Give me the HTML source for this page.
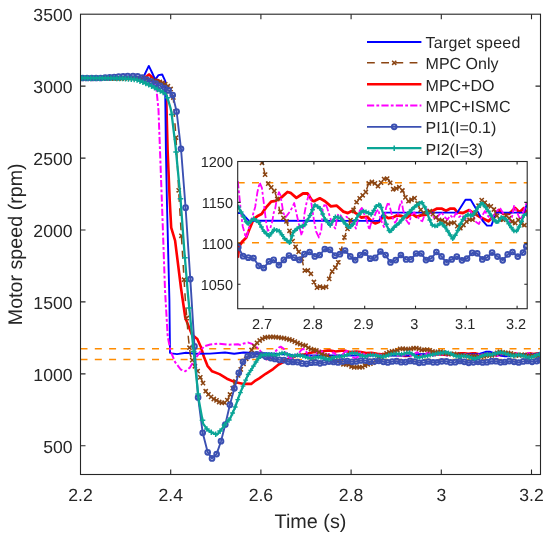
<!DOCTYPE html>
<html lang="en"><head><meta charset="utf-8"><title>Motor speed response</title>
<style>html,body{margin:0;padding:0;background:#fff}svg{display:block;will-change:transform;text-rendering:geometricPrecision}</style></head>
<body>
<svg width="550" height="541" viewBox="0 0 550 541" font-family="'Liberation Sans', Arial, Helvetica, sans-serif" fill="#262626">
<defs><clipPath id="cm"><rect x="80.5" y="14.2" width="460.0" height="460.3"/></clipPath>
<clipPath id="ci"><rect x="237.7" y="161.5" width="289.5" height="147.2"/></clipPath></defs>
<rect width="550" height="541" fill="#fff"/>
<g clip-path="url(#cm)">
<line x1="80.5" x2="540.5" y1="348.7" y2="348.7" stroke="#ff8c00" stroke-width="1.6" stroke-dasharray="7 7.3"/>
<line x1="80.5" x2="540.5" y1="359.5" y2="359.5" stroke="#ff8c00" stroke-width="1.6" stroke-dasharray="7 7.3"/>
<polyline points="80.5,78.5 144.0,78.0 147.0,76.0 149.0,74.4 152.0,77.0 156.0,79.5 161.0,82.0 163.5,84.5 165.5,89.0 166.2,96.0 166.4,104.0 167.6,150.0 169.7,200.0 171.2,227.7 175.1,240.7 181.0,288.0 185.3,317.7 191.8,334.4 197.3,339.0 201.0,347.3 203.8,356.5 207.5,365.8 212.1,371.3 219.5,374.1 226.9,378.7 234.3,381.9 243.8,383.9 251.2,383.9 254.6,381.2 259.2,378.4 265.7,373.8 273.1,369.1 278.6,364.5 283.4,362.0 285.0,359.9 287.6,359.2 290.9,358.5 294.2,356.8 297.5,355.2 300.8,354.7 304.7,354.3 308.7,353.2 313.2,352.2 317.2,352.0 321.8,351.5 327.7,350.5 330.3,350.6 335.6,351.5 341.4,350.7 345.4,350.7 349.3,351.9 351.1,352.1 356.3,351.6 361.0,352.1 366.2,353.0 371.4,352.9 377.3,353.9 381.3,354.2 385.2,353.8 389.2,354.3 393.1,355.0 398.3,354.8 402.2,355.6 405.5,356.0 408.8,355.7 413.2,354.6 417.2,355.1 421.1,355.0 425.1,354.6 429.0,354.7 433.6,355.0 438.2,354.3 442.1,354.8 446.0,354.6 451.3,354.4 456.6,353.8 460.5,353.4 464.4,353.4 468.4,353.8 472.3,353.4 475.8,353.4 478.5,354.0 483.5,354.2 489.0,353.6 493.0,354.2 498.6,354.9 506.1,355.6 511.3,354.6 515.3,353.6 519.2,354.3 524.5,354.3 529.7,353.3 533.6,354.0 537.6,353.3 540.6,354.3" fill="none" stroke="#ff0000" stroke-width="2.6" stroke-linejoin="round" />
<polyline points="80.5,78.5 143.0,78.5 144.2,75.5 148.8,65.9 152.0,72.5 155.2,79.7 158.5,75.1 162.2,74.5 165.3,81.1 165.3,90.0 165.3,100.0 165.9,150.0 167.0,205.0 169.4,300.0 170.0,352.8 171.5,353.4 177.0,354.1 186.0,352.8 195.0,353.8 210.0,353.6 225.0,352.5 234.2,353.8 243.5,352.5 260.0,353.0 283.4,354.2 287.0,354.2 293.5,355.5 408.9,355.5 413.2,354.1 478.5,354.1 485.7,351.8 490.3,351.8 496.9,354.0 500.8,355.5 504.8,356.4 508.7,356.4 512.7,354.1 537.6,354.1 540.6,352.4" fill="none" stroke="#0000ff" stroke-width="1.9" stroke-linejoin="round" />
<polyline points="80.5,78.5 145.0,78.5 150.0,79.0 154.0,83.0 156.5,90.0 158.5,110.0 162.2,210.0 165.0,290.0 167.7,336.2 170.5,351.0 175.1,362.1 180.7,369.5 185.3,371.3 189.9,367.6 195.5,358.4 200.1,351.9 203.8,346.4 210.2,344.5 217.6,343.6 228.7,344.7 232.4,344.6 237.9,344.2 240.0,344.9 243.7,343.5 248.3,342.6 252.0,343.9 256.6,347.2 259.9,350.4 263.0,355.0 266.5,359.5 270.0,358.0 272.5,355.0 275.1,351.8 278.8,347.6 280.7,346.7 283.5,348.5 285.2,351.8 286.6,354.4 287.9,356.5 289.8,357.9 290.5,358.6 291.9,358.0 293.1,357.0 295.1,355.7 297.0,354.4 299.0,353.1 300.9,350.5 303.0,348.8 304.9,349.7 306.3,351.8 307.5,353.9 308.8,356.0 310.2,357.3 312.1,357.0 314.1,355.7 315.4,354.1 316.7,353.4 318.1,351.8 320.0,350.5 321.4,351.0 322.7,352.6 323.9,354.1 326.0,354.9 327.9,354.4 329.9,353.9 331.8,353.2 333.6,352.4 336.2,354.7 338.8,357.1 340.2,358.1 341.4,357.1 342.8,354.2 344.5,352.4 345.9,351.4 347.1,350.9 348.4,352.0 351.1,355.3 353.1,357.4 355.6,358.5 357.7,357.1 358.9,353.5 361.0,352.5 362.9,353.3 364.9,354.6 367.5,356.1 370.1,356.9 371.4,355.3 372.8,354.3 374.7,354.6 377.3,355.3 380.0,354.8 381.9,355.1 383.9,355.9 386.5,356.1 388.5,356.9 389.8,355.6 391.8,353.8 393.7,353.3 395.7,354.3 398.3,355.6 400.3,357.1 401.6,356.1 403.6,355.3 406.2,354.0 408.2,353.5 410.1,355.1 412.1,356.1 413.3,356.6 415.1,353.3 417.2,352.2 419.1,353.5 421.1,355.0 423.1,355.9 424.9,355.3 427.0,353.0 429.0,352.1 430.2,353.5 432.9,355.3 435.5,356.1 437.5,354.6 440.1,354.0 442.6,354.6 444.8,355.3 447.3,355.6 449.3,354.6 452.0,353.5 454.6,354.0 457.2,354.8 459.1,355.3 461.8,354.6 464.4,354.0 467.0,354.8 469.7,355.3 472.3,354.6 474.9,355.1 477.3,354.2 479.9,354.9 482.6,354.5 485.2,355.4 487.9,354.3 489.7,353.6 492.3,354.5 495.0,355.7 497.7,356.1 500.3,354.7 503.0,353.8 505.7,354.7 508.3,355.2 511.0,354.5 513.7,353.8 516.3,353.3 519.0,354.2 521.6,355.4 524.3,355.9 527.0,354.9 528.7,352.9 531.4,354.0 533.2,354.9 535.0,355.4 537.6,353.6 539.4,352.6 540.6,352.4" fill="none" stroke="#ff00ff" stroke-width="2.0" stroke-dasharray="7.2 2.2 2.8 2.2" stroke-linejoin="round" />
<polyline points="80.5,78.5 140.0,78.3 150.0,79.5 160.0,82.0 166.0,84.5 170.0,88.0 173.0,93.0 173.8,105.0 174.3,114.5 176.0,137.7 179.2,200.0 185.3,299.2 188.4,338.0 190.3,354.7 193.6,364.0 197.7,371.3 200.1,376.9 202.8,382.4 205.0,390.3 207.7,393.7 210.5,396.4 213.3,398.7 216.0,400.1 218.8,401.8 221.6,402.9 224.4,402.9 227.1,400.5 229.0,396.8 232.0,390.0 236.0,380.0 241.0,369.0 245.3,360.0 249.0,355.0 252.0,349.2 254.8,345.5 257.6,342.1 261.3,339.3 265.0,337.5 270.5,336.8 277.0,337.2 283.4,338.1 290.0,339.6 294.0,341.2 297.5,343.0 302.6,345.1 304.7,345.1 306.6,346.4 309.3,348.7 312.6,349.6 315.5,350.1 318.5,351.6 320.5,353.5 323.0,354.9 326.3,355.4 329.0,357.0 331.7,358.9 334.2,359.9 336.9,360.7 339.5,361.8 340.7,362.4 342.7,364.3 346.0,364.3 349.2,365.0 351.2,366.3 354.5,367.5 357.1,367.0 359.8,367.4 363.1,367.0 365.7,364.9 368.9,364.0 371.6,363.4 374.2,362.2 376.8,359.3 380.0,357.4 382.6,356.1 385.2,354.3 387.9,352.6 390.4,351.8 393.7,351.2 397.0,350.5 399.7,349.0 403.6,348.6 407.7,349.5 411.1,348.7 414.6,347.9 417.8,348.3 419.8,349.4 422.4,350.3 425.7,349.5 428.3,349.7 430.9,350.7 433.6,352.1 436.9,352.1 439.5,351.3 442.1,352.0 444.8,353.3 447.3,354.0 450.6,354.2 454.6,353.8 457.9,354.7 461.8,355.3 465.7,355.5 469.7,356.1 473.6,355.9 475.8,355.9 479.1,356.6 481.8,356.9 485.1,355.9 489.0,355.3 493.0,355.3 496.3,353.3 500.2,351.8 503.4,352.5 506.7,353.1 509.4,352.9 512.0,354.0 514.6,355.1 517.9,355.6 521.8,354.6 525.7,355.3 529.0,356.1 532.3,355.3 535.6,356.1 538.9,356.4 540.6,356.3" fill="none" stroke="#8b4513" stroke-width="1.5" stroke-dasharray="7.8 6.4" stroke-linejoin="round" />
<path d="M79.4 76.4l4.2 4.2M79.4 80.6l4.2 -4.2M82.1 76.4l4.2 4.2M82.1 80.6l4.2 -4.2M84.8 76.4l4.2 4.2M84.8 80.6l4.2 -4.2M87.5 76.4l4.2 4.2M87.5 80.6l4.2 -4.2M90.2 76.4l4.2 4.2M90.2 80.6l4.2 -4.2M92.9 76.4l4.2 4.2M92.9 80.6l4.2 -4.2M95.6 76.3l4.2 4.2M95.6 80.5l4.2 -4.2M98.3 76.3l4.2 4.2M98.3 80.5l4.2 -4.2M101.0 76.3l4.2 4.2M101.0 80.5l4.2 -4.2M103.7 76.3l4.2 4.2M103.7 80.5l4.2 -4.2M106.4 76.3l4.2 4.2M106.4 80.5l4.2 -4.2M109.1 76.3l4.2 4.2M109.1 80.5l4.2 -4.2M111.8 76.3l4.2 4.2M111.8 80.5l4.2 -4.2M114.5 76.3l4.2 4.2M114.5 80.5l4.2 -4.2M117.2 76.3l4.2 4.2M117.2 80.5l4.2 -4.2M119.9 76.3l4.2 4.2M119.9 80.5l4.2 -4.2M122.6 76.3l4.2 4.2M122.6 80.5l4.2 -4.2M125.3 76.2l4.2 4.2M125.3 80.4l4.2 -4.2M128.0 76.2l4.2 4.2M128.0 80.4l4.2 -4.2M130.7 76.2l4.2 4.2M130.7 80.4l4.2 -4.2M133.4 76.2l4.2 4.2M133.4 80.4l4.2 -4.2M136.1 76.2l4.2 4.2M136.1 80.4l4.2 -4.2M138.8 76.3l4.2 4.2M138.8 80.5l4.2 -4.2M141.5 76.6l4.2 4.2M141.5 80.8l4.2 -4.2M144.2 77.0l4.2 4.2M144.2 81.2l4.2 -4.2M146.9 77.3l4.2 4.2M146.9 81.5l4.2 -4.2M149.6 77.8l4.2 4.2M149.6 82.0l4.2 -4.2M152.3 78.5l4.2 4.2M152.3 82.7l4.2 -4.2M155.0 79.2l4.2 4.2M155.0 83.4l4.2 -4.2M157.7 79.9l4.2 4.2M157.7 84.1l4.2 -4.2M160.4 80.9l4.2 4.2M160.4 85.1l4.2 -4.2M163.1 82.1l4.2 4.2M163.1 86.3l4.2 -4.2M165.8 84.1l4.2 4.2M165.8 88.3l4.2 -4.2M168.5 86.9l4.2 4.2M168.5 91.1l4.2 -4.2M171.2 95.4l4.2 4.2M171.2 99.6l4.2 -4.2M173.9 135.6l4.2 4.2M173.9 139.8l4.2 -4.2M176.6 188.2l4.2 4.2M176.6 192.4l4.2 -4.2M179.3 233.7l4.2 4.2M179.3 237.9l4.2 -4.2M182.0 277.6l4.2 4.2M182.0 281.8l4.2 -4.2M184.7 315.9l4.2 4.2M184.7 320.1l4.2 -4.2M187.4 345.6l4.2 4.2M187.4 349.8l4.2 -4.2M190.1 358.0l4.2 4.2M190.1 362.2l4.2 -4.2M192.8 364.2l4.2 4.2M192.8 368.4l4.2 -4.2M195.5 369.0l4.2 4.2M195.5 373.2l4.2 -4.2M198.2 375.2l4.2 4.2M198.2 379.4l4.2 -4.2M200.9 381.0l4.2 4.2M200.9 385.2l4.2 -4.2M203.6 389.1l4.2 4.2M203.6 393.3l4.2 -4.2M206.3 392.3l4.2 4.2M206.3 396.5l4.2 -4.2M209.0 394.8l4.2 4.2M209.0 399.0l4.2 -4.2M211.7 396.9l4.2 4.2M211.7 401.1l4.2 -4.2M214.4 398.3l4.2 4.2M214.4 402.5l4.2 -4.2M217.1 399.9l4.2 4.2M217.1 404.1l4.2 -4.2M219.8 400.8l4.2 4.2M219.8 405.0l4.2 -4.2M222.5 400.6l4.2 4.2M222.5 404.8l4.2 -4.2M225.2 398.0l4.2 4.2M225.2 402.2l4.2 -4.2M227.9 392.4l4.2 4.2M227.9 396.6l4.2 -4.2M230.6 386.1l4.2 4.2M230.6 390.3l4.2 -4.2M233.3 379.4l4.2 4.2M233.3 383.6l4.2 -4.2M236.0 373.3l4.2 4.2M236.0 377.5l4.2 -4.2M238.7 367.3l4.2 4.2M238.7 371.5l4.2 -4.2M241.4 361.7l4.2 4.2M241.4 365.9l4.2 -4.2M244.1 356.7l4.2 4.2M244.1 360.9l4.2 -4.2M246.8 353.0l4.2 4.2M246.8 357.2l4.2 -4.2M249.5 347.9l4.2 4.2M249.5 352.1l4.2 -4.2M252.2 344.1l4.2 4.2M252.2 348.3l4.2 -4.2M254.9 340.7l4.2 4.2M254.9 344.9l4.2 -4.2M257.6 338.4l4.2 4.2M257.6 342.6l4.2 -4.2M260.3 336.7l4.2 4.2M260.3 340.9l4.2 -4.2M263.0 335.4l4.2 4.2M263.0 339.6l4.2 -4.2M265.7 335.0l4.2 4.2M265.7 339.2l4.2 -4.2M268.4 334.7l4.2 4.2M268.4 338.9l4.2 -4.2M271.1 334.9l4.2 4.2M271.1 339.1l4.2 -4.2M273.8 335.0l4.2 4.2M273.8 339.2l4.2 -4.2M276.5 335.3l4.2 4.2M276.5 339.5l4.2 -4.2M279.2 335.7l4.2 4.2M279.2 339.9l4.2 -4.2M281.9 336.1l4.2 4.2M281.9 340.3l4.2 -4.2M284.6 336.8l4.2 4.2M284.6 341.0l4.2 -4.2M287.3 337.4l4.2 4.2M287.3 341.6l4.2 -4.2M290.0 338.3l4.2 4.2M290.0 342.5l4.2 -4.2M292.7 339.5l4.2 4.2M292.7 343.7l4.2 -4.2M295.4 340.9l4.2 4.2M295.4 345.1l4.2 -4.2M298.1 342.0l4.2 4.2M298.1 346.2l4.2 -4.2M300.8 343.0l4.2 4.2M300.8 347.2l4.2 -4.2M303.5 343.6l4.2 4.2M303.5 347.8l4.2 -4.2M306.2 345.7l4.2 4.2M306.2 349.9l4.2 -4.2M308.9 347.0l4.2 4.2M308.9 351.2l4.2 -4.2M311.6 347.7l4.2 4.2M311.6 351.9l4.2 -4.2M314.3 348.4l4.2 4.2M314.3 352.6l4.2 -4.2M317.0 350.1l4.2 4.2M317.0 354.3l4.2 -4.2M319.7 352.1l4.2 4.2M319.7 356.3l4.2 -4.2M322.4 353.0l4.2 4.2M322.4 357.2l4.2 -4.2M325.1 353.8l4.2 4.2M325.1 358.0l4.2 -4.2M327.8 355.5l4.2 4.2M327.8 359.7l4.2 -4.2M330.5 357.2l4.2 4.2M330.5 361.4l4.2 -4.2M333.2 358.2l4.2 4.2M333.2 362.4l4.2 -4.2M335.9 359.1l4.2 4.2M335.9 363.3l4.2 -4.2M338.6 360.3l4.2 4.2M338.6 364.5l4.2 -4.2M341.3 362.2l4.2 4.2M341.3 366.4l4.2 -4.2M344.0 362.2l4.2 4.2M344.0 366.4l4.2 -4.2M346.7 362.8l4.2 4.2M346.7 367.0l4.2 -4.2M349.4 364.4l4.2 4.2M349.4 368.6l4.2 -4.2M352.1 365.3l4.2 4.2M352.1 369.5l4.2 -4.2M354.8 364.9l4.2 4.2M354.8 369.1l4.2 -4.2M357.5 365.3l4.2 4.2M357.5 369.5l4.2 -4.2M360.2 365.0l4.2 4.2M360.2 369.2l4.2 -4.2M362.9 363.4l4.2 4.2M362.9 367.6l4.2 -4.2M365.6 362.3l4.2 4.2M365.6 366.5l4.2 -4.2M368.3 361.6l4.2 4.2M368.3 365.8l4.2 -4.2M371.0 360.6l4.2 4.2M371.0 364.8l4.2 -4.2M373.7 358.3l4.2 4.2M373.7 362.5l4.2 -4.2M376.4 356.2l4.2 4.2M376.4 360.4l4.2 -4.2M379.1 354.7l4.2 4.2M379.1 358.9l4.2 -4.2M381.8 353.1l4.2 4.2M381.8 357.3l4.2 -4.2M384.5 351.3l4.2 4.2M384.5 355.5l4.2 -4.2M387.2 350.1l4.2 4.2M387.2 354.3l4.2 -4.2M389.9 349.4l4.2 4.2M389.9 353.6l4.2 -4.2M392.6 348.9l4.2 4.2M392.6 353.1l4.2 -4.2M395.3 348.2l4.2 4.2M395.3 352.4l4.2 -4.2M398.0 346.8l4.2 4.2M398.0 351.0l4.2 -4.2M400.7 346.6l4.2 4.2M400.7 350.8l4.2 -4.2M403.4 346.9l4.2 4.2M403.4 351.1l4.2 -4.2M406.1 347.3l4.2 4.2M406.1 351.5l4.2 -4.2M408.8 346.7l4.2 4.2M408.8 350.9l4.2 -4.2M411.5 346.1l4.2 4.2M411.5 350.3l4.2 -4.2M414.2 346.0l4.2 4.2M414.2 350.2l4.2 -4.2M416.9 346.8l4.2 4.2M416.9 351.0l4.2 -4.2M419.6 347.9l4.2 4.2M419.6 352.1l4.2 -4.2M422.3 347.7l4.2 4.2M422.3 351.9l4.2 -4.2M425.0 347.5l4.2 4.2M425.0 351.7l4.2 -4.2M427.7 348.2l4.2 4.2M427.7 352.4l4.2 -4.2M430.4 349.4l4.2 4.2M430.4 353.6l4.2 -4.2M433.1 350.0l4.2 4.2M433.1 354.2l4.2 -4.2M435.8 349.7l4.2 4.2M435.8 353.9l4.2 -4.2M438.5 349.5l4.2 4.2M438.5 353.7l4.2 -4.2M441.2 350.4l4.2 4.2M441.2 354.6l4.2 -4.2M443.9 351.5l4.2 4.2M443.9 355.7l4.2 -4.2M446.6 352.0l4.2 4.2M446.6 356.2l4.2 -4.2M449.3 352.0l4.2 4.2M449.3 356.2l4.2 -4.2M452.0 351.7l4.2 4.2M452.0 355.9l4.2 -4.2M454.7 352.3l4.2 4.2M454.7 356.5l4.2 -4.2M457.4 352.9l4.2 4.2M457.4 357.1l4.2 -4.2M460.1 353.3l4.2 4.2M460.1 357.5l4.2 -4.2M462.8 353.3l4.2 4.2M462.8 357.5l4.2 -4.2M465.5 353.7l4.2 4.2M465.5 357.9l4.2 -4.2M468.2 354.0l4.2 4.2M468.2 358.2l4.2 -4.2M470.9 353.8l4.2 4.2M470.9 358.0l4.2 -4.2M473.6 353.8l4.2 4.2M473.6 358.0l4.2 -4.2M476.3 354.4l4.2 4.2M476.3 358.6l4.2 -4.2M479.0 354.7l4.2 4.2M479.0 358.9l4.2 -4.2M481.7 354.2l4.2 4.2M481.7 358.4l4.2 -4.2M484.4 353.6l4.2 4.2M484.4 357.8l4.2 -4.2M487.1 353.2l4.2 4.2M487.1 357.4l4.2 -4.2M489.8 353.2l4.2 4.2M489.8 357.4l4.2 -4.2M492.5 352.2l4.2 4.2M492.5 356.4l4.2 -4.2M495.2 350.8l4.2 4.2M495.2 355.0l4.2 -4.2M497.9 349.8l4.2 4.2M497.9 354.0l4.2 -4.2M500.6 350.2l4.2 4.2M500.6 354.4l4.2 -4.2M503.3 350.8l4.2 4.2M503.3 355.0l4.2 -4.2M506.0 350.9l4.2 4.2M506.0 355.1l4.2 -4.2M508.7 351.4l4.2 4.2M508.7 355.6l4.2 -4.2M511.4 352.5l4.2 4.2M511.4 356.7l4.2 -4.2M514.1 353.2l4.2 4.2M514.1 357.4l4.2 -4.2M516.8 353.2l4.2 4.2M516.8 357.4l4.2 -4.2M519.5 352.5l4.2 4.2M519.5 356.7l4.2 -4.2M522.2 353.0l4.2 4.2M522.2 357.2l4.2 -4.2M524.9 353.5l4.2 4.2M524.9 357.7l4.2 -4.2M527.6 353.8l4.2 4.2M527.6 358.0l4.2 -4.2M530.3 353.3l4.2 4.2M530.3 357.5l4.2 -4.2M533.0 353.9l4.2 4.2M533.0 358.1l4.2 -4.2M535.7 354.2l4.2 4.2M535.7 358.4l4.2 -4.2M538.4 354.2l4.2 4.2M538.4 358.4l4.2 -4.2" stroke="#8b4513" stroke-width="1.5" fill="none"/>
<polyline points="82.6,78.0 87.1,78.0 91.6,78.0 96.1,78.0 100.6,78.0 105.2,77.6 109.7,77.3 114.2,77.0 118.7,76.7 123.2,76.4 127.7,76.2 133.0,76.2 137.6,76.4 142.2,77.5 146.7,79.5 151.2,81.6 155.7,83.7 160.2,85.9 164.7,88.1 168.6,90.4 172.7,95.1 176.6,111.5 181.0,148.8 185.6,207.7 190.3,279.1 194.5,346.4 198.1,397.4 202.7,432.8 207.7,452.3 212.0,458.4 216.6,454.1 221.0,441.2 225.3,424.5 229.9,404.8 234.4,388.3 238.8,372.8 242.9,361.8 247.7,356.2 252.4,354.9 256.8,354.4 261.4,354.9 266.0,356.8 270.7,358.1 274.9,359.0 279.5,359.9 284.0,360.2 288.2,361.8 292.9,362.0 297.5,362.1 302.1,363.4 306.6,363.8 311.2,362.7 315.4,362.4 320.0,363.3 324.4,362.4 329.0,361.6 333.6,362.0 338.1,362.4 342.7,361.4 347.3,361.0 351.9,361.8 356.2,361.5 360.8,360.5 365.4,360.6 369.8,361.7 374.2,361.4 378.8,360.8 383.4,361.8 387.8,362.4 392.2,361.5 396.6,361.1 401.1,362.2 405.6,362.1 410.1,360.9 414.8,361.5 419.1,362.8 423.7,362.4 428.3,361.5 433.0,362.3 437.2,362.3 441.8,361.3 446.4,361.3 450.6,362.4 455.2,362.2 459.9,361.0 464.4,361.8 468.7,362.8 473.4,362.3 478.0,361.8 482.6,362.5 487.0,362.2 491.6,361.2 496.1,361.2 500.6,362.3 504.8,362.0 509.3,361.1 514.1,361.8 518.7,362.5 523.2,361.4 527.4,361.0 532.1,361.8 536.7,361.1 539.7,360.1" fill="none" stroke="#3b50b2" stroke-width="1.9" stroke-linejoin="round" />
<g fill="none" stroke="#3b50b2" stroke-width="2.0"><circle cx="82.6" cy="78.0" r="2.35"/><circle cx="87.1" cy="78.0" r="2.35"/><circle cx="91.6" cy="78.0" r="2.35"/><circle cx="96.1" cy="78.0" r="2.35"/><circle cx="100.6" cy="78.0" r="2.35"/><circle cx="105.2" cy="77.6" r="2.35"/><circle cx="109.7" cy="77.3" r="2.35"/><circle cx="114.2" cy="77.0" r="2.35"/><circle cx="118.7" cy="76.7" r="2.35"/><circle cx="123.2" cy="76.4" r="2.35"/><circle cx="127.7" cy="76.2" r="2.35"/><circle cx="133.0" cy="76.2" r="2.35"/><circle cx="137.6" cy="76.4" r="2.35"/><circle cx="142.2" cy="77.5" r="2.35"/><circle cx="146.7" cy="79.5" r="2.35"/><circle cx="151.2" cy="81.6" r="2.35"/><circle cx="155.7" cy="83.7" r="2.35"/><circle cx="160.2" cy="85.9" r="2.35"/><circle cx="164.7" cy="88.1" r="2.35"/><circle cx="168.6" cy="90.4" r="2.35"/><circle cx="172.7" cy="95.1" r="2.35"/><circle cx="176.6" cy="111.5" r="2.35"/><circle cx="181.0" cy="148.8" r="2.35"/><circle cx="185.6" cy="207.7" r="2.35"/><circle cx="190.3" cy="279.1" r="2.35"/><circle cx="194.5" cy="346.4" r="2.35"/><circle cx="198.1" cy="397.4" r="2.35"/><circle cx="202.7" cy="432.8" r="2.35"/><circle cx="207.7" cy="452.3" r="2.35"/><circle cx="212.0" cy="458.4" r="2.35"/><circle cx="216.6" cy="454.1" r="2.35"/><circle cx="221.0" cy="441.2" r="2.35"/><circle cx="225.3" cy="424.5" r="2.35"/><circle cx="229.9" cy="404.8" r="2.35"/><circle cx="234.4" cy="388.3" r="2.35"/><circle cx="238.8" cy="372.8" r="2.35"/><circle cx="242.9" cy="361.8" r="2.35"/><circle cx="247.7" cy="356.2" r="2.35"/><circle cx="252.4" cy="354.9" r="2.35"/><circle cx="256.8" cy="354.4" r="2.35"/><circle cx="261.4" cy="354.9" r="2.35"/><circle cx="266.0" cy="356.8" r="2.35"/><circle cx="270.7" cy="358.1" r="2.35"/><circle cx="274.9" cy="359.0" r="2.35"/><circle cx="279.5" cy="359.9" r="2.35"/><circle cx="284.0" cy="360.2" r="2.35"/><circle cx="288.2" cy="361.8" r="2.35"/><circle cx="292.9" cy="362.0" r="2.35"/><circle cx="297.5" cy="362.1" r="2.35"/><circle cx="302.1" cy="363.4" r="2.35"/><circle cx="306.6" cy="363.8" r="2.35"/><circle cx="311.2" cy="362.7" r="2.35"/><circle cx="315.4" cy="362.4" r="2.35"/><circle cx="320.0" cy="363.3" r="2.35"/><circle cx="324.4" cy="362.4" r="2.35"/><circle cx="329.0" cy="361.6" r="2.35"/><circle cx="333.6" cy="362.0" r="2.35"/><circle cx="338.1" cy="362.4" r="2.35"/><circle cx="342.7" cy="361.4" r="2.35"/><circle cx="347.3" cy="361.0" r="2.35"/><circle cx="351.9" cy="361.8" r="2.35"/><circle cx="356.2" cy="361.5" r="2.35"/><circle cx="360.8" cy="360.5" r="2.35"/><circle cx="365.4" cy="360.6" r="2.35"/><circle cx="369.8" cy="361.7" r="2.35"/><circle cx="374.2" cy="361.4" r="2.35"/><circle cx="378.8" cy="360.8" r="2.35"/><circle cx="383.4" cy="361.8" r="2.35"/><circle cx="387.8" cy="362.4" r="2.35"/><circle cx="392.2" cy="361.5" r="2.35"/><circle cx="396.6" cy="361.1" r="2.35"/><circle cx="401.1" cy="362.2" r="2.35"/><circle cx="405.6" cy="362.1" r="2.35"/><circle cx="410.1" cy="360.9" r="2.35"/><circle cx="414.8" cy="361.5" r="2.35"/><circle cx="419.1" cy="362.8" r="2.35"/><circle cx="423.7" cy="362.4" r="2.35"/><circle cx="428.3" cy="361.5" r="2.35"/><circle cx="433.0" cy="362.3" r="2.35"/><circle cx="437.2" cy="362.3" r="2.35"/><circle cx="441.8" cy="361.3" r="2.35"/><circle cx="446.4" cy="361.3" r="2.35"/><circle cx="450.6" cy="362.4" r="2.35"/><circle cx="455.2" cy="362.2" r="2.35"/><circle cx="459.9" cy="361.0" r="2.35"/><circle cx="464.4" cy="361.8" r="2.35"/><circle cx="468.7" cy="362.8" r="2.35"/><circle cx="473.4" cy="362.3" r="2.35"/><circle cx="478.0" cy="361.8" r="2.35"/><circle cx="482.6" cy="362.5" r="2.35"/><circle cx="487.0" cy="362.2" r="2.35"/><circle cx="491.6" cy="361.2" r="2.35"/><circle cx="496.1" cy="361.2" r="2.35"/><circle cx="500.6" cy="362.3" r="2.35"/><circle cx="504.8" cy="362.0" r="2.35"/><circle cx="509.3" cy="361.1" r="2.35"/><circle cx="514.1" cy="361.8" r="2.35"/><circle cx="518.7" cy="362.5" r="2.35"/><circle cx="523.2" cy="361.4" r="2.35"/><circle cx="527.4" cy="361.0" r="2.35"/><circle cx="532.1" cy="361.8" r="2.35"/><circle cx="536.7" cy="361.1" r="2.35"/><circle cx="539.7" cy="360.1" r="2.35"/></g>
<polyline points="80.5,78.0 120.0,78.4 129.0,78.9 136.0,79.6 143.5,82.5 150.7,85.6 158.5,90.0 165.9,94.0 167.7,98.7 170.5,108.0 171.4,111.9 175.7,147.9 180.3,196.0 184.4,251.8 188.0,295.0 192.5,340.0 197.7,390.0 198.6,399.0 203.1,423.6 207.7,430.1 212.3,432.8 217.0,434.7 221.0,430.1 226.2,422.7 229.9,419.0 234.9,407.9 239.1,395.9 243.5,384.9 248.1,374.7 252.7,367.3 257.3,359.9 261.0,355.3 265.7,354.4 271.2,354.4 276.8,354.9 281.4,353.4 283.4,352.8 287.6,354.5 292.2,356.2 297.5,355.1 302.1,355.8 306.6,357.3 311.2,358.2 315.9,357.1 320.5,357.3 325.0,358.6 329.6,359.4 332.9,357.5 337.5,356.7 342.8,356.3 346.9,354.9 349.9,353.5 351.9,352.8 356.3,353.3 361.0,355.2 365.5,356.4 370.1,354.8 374.7,355.1 379.3,356.1 382.6,356.8 386.5,356.0 390.4,354.6 394.4,353.8 398.3,354.0 402.2,354.4 406.2,353.0 410.0,352.6 412.5,354.3 415.8,356.4 418.5,357.6 422.4,356.6 426.4,356.0 430.3,355.1 434.9,354.2 438.8,353.4 442.7,352.7 446.7,352.2 450.6,353.5 453.3,355.1 455.9,356.3 459.9,356.5 463.8,355.9 467.7,356.6 471.0,357.7 474.4,358.7 477.9,357.7 481.2,356.1 484.4,355.0 487.6,354.4 491.6,354.7 495.5,353.5 500.2,352.3 503.4,353.1 506.7,354.0 510.6,355.3 513.9,355.9 517.9,354.8 521.8,355.3 525.1,356.4 528.4,357.3 531.7,357.3 535.0,355.9 537.6,354.6 540.6,354.3" fill="none" stroke="#0aa596" stroke-width="2.3" stroke-linejoin="round" />
<path d="M79.2 78.0h5.6M82.0 75.2v5.6M82.1 78.0h5.6M84.9 75.2v5.6M85.0 78.1h5.6M87.8 75.3v5.6M87.9 78.1h5.6M90.7 75.3v5.6M90.8 78.1h5.6M93.6 75.3v5.6M93.7 78.2h5.6M96.5 75.4v5.6M96.6 78.2h5.6M99.4 75.4v5.6M99.5 78.2h5.6M102.3 75.4v5.6M102.4 78.3h5.6M105.2 75.5v5.6M105.3 78.3h5.6M108.1 75.5v5.6M108.2 78.3h5.6M111.0 75.5v5.6M111.1 78.3h5.6M113.9 75.5v5.6M114.0 78.4h5.6M116.8 75.6v5.6M116.9 78.4h5.6M119.7 75.6v5.6M119.8 78.5h5.6M122.6 75.7v5.6M122.7 78.7h5.6M125.5 75.9v5.6M125.6 78.9h5.6M128.4 76.1v5.6M128.5 79.1h5.6M131.3 76.3v5.6M131.4 79.4h5.6M134.2 76.6v5.6M134.3 80.0h5.6M137.1 77.2v5.6M137.2 81.1h5.6M140.0 78.3v5.6M140.1 82.3h5.6M142.9 79.5v5.6M143.0 83.5h5.6M145.8 80.7v5.6M145.9 84.7h5.6M148.7 81.9v5.6M148.8 86.1h5.6M151.6 83.3v5.6M151.7 87.7h5.6M154.5 84.9v5.6M154.6 89.4h5.6M157.4 86.6v5.6M157.5 91.0h5.6M160.3 88.2v5.6M160.4 92.5h5.6M163.2 89.7v5.6M164.5 97.7h5.6M167.3 94.9v5.6M168.9 114.4h5.6M171.7 111.6v5.6M173.3 152.1h5.6M176.1 149.3v5.6M177.7 198.7h5.6M180.5 195.9v5.6M182.1 257.8h5.6M184.9 255.0v5.6M186.5 308.0h5.6M189.3 305.2v5.6M190.9 351.5h5.6M193.7 348.7v5.6M195.3 394.0h5.6M198.1 391.2v5.6M199.7 420.3h5.6M202.5 417.5v5.6M204.1 429.0h5.6M206.9 426.2v5.6M208.5 432.2h5.6M211.3 429.4v5.6M212.9 434.2h5.6M215.7 431.4v5.6M217.3 431.1h5.6M220.1 428.3v5.6M221.7 425.1h5.6M224.5 422.3v5.6M226.1 420.0h5.6M228.9 417.2v5.6" stroke="#0aa596" stroke-width="1.5" fill="none"/>
<path d="M230.2 413.0h4.8M232.6 410.6v4.8M232.8 407.0h4.8M235.2 404.6v4.8M235.4 399.6h4.8M237.8 397.2v4.8M238.0 392.7h4.8M240.4 390.3v4.8M240.6 386.2h4.8M243.0 383.8v4.8M243.2 380.2h4.8M245.6 377.8v4.8M245.8 374.5h4.8M248.2 372.1v4.8M248.4 370.4h4.8M250.8 368.0v4.8M251.0 366.2h4.8M253.4 363.8v4.8M253.6 362.0h4.8M256.0 359.6v4.8M256.2 358.3h4.8M258.6 355.9v4.8M258.8 355.3h4.8M261.2 352.9v4.8M261.4 354.8h4.8M263.8 352.4v4.8M264.0 354.4h4.8M266.4 352.0v4.8M266.6 354.4h4.8M269.0 352.0v4.8M269.2 354.4h4.8M271.6 352.0v4.8M271.8 354.7h4.8M274.2 352.3v4.8M274.4 354.9h4.8M276.8 352.5v4.8M277.0 354.1h4.8M279.4 351.7v4.8M279.6 353.2h4.8M282.0 350.8v4.8M282.2 353.3h4.8M284.6 350.9v4.8M284.8 354.3h4.8M287.2 351.9v4.8M287.4 355.3h4.8M289.8 352.9v4.8M290.0 356.1h4.8M292.4 353.7v4.8M292.6 355.6h4.8M295.0 353.2v4.8M295.2 355.1h4.8M297.6 352.7v4.8M297.8 355.5h4.8M300.2 353.1v4.8M300.4 356.0h4.8M302.8 353.6v4.8M303.0 356.9h4.8M305.4 354.5v4.8M305.6 357.6h4.8M308.0 355.2v4.8M308.2 358.1h4.8M310.6 355.7v4.8M310.8 357.7h4.8M313.2 355.3v4.8M313.4 357.1h4.8M315.8 354.7v4.8M316.0 357.2h4.8M318.4 354.8v4.8M318.6 357.5h4.8M321.0 355.1v4.8M321.2 358.2h4.8M323.6 355.8v4.8M323.8 358.8h4.8M326.2 356.4v4.8M326.4 359.3h4.8M328.8 356.9v4.8M329.0 358.4h4.8M331.4 356.0v4.8M331.6 357.3h4.8M334.0 354.9v4.8M334.2 356.8h4.8M336.6 354.4v4.8M336.8 356.6h4.8M339.2 354.2v4.8M339.4 356.4h4.8M341.8 354.0v4.8M342.0 355.7h4.8M344.4 353.3v4.8M344.6 354.8h4.8M347.0 352.4v4.8M347.2 353.7h4.8M349.6 351.3v4.8M349.8 352.8h4.8M352.2 350.4v4.8M352.4 353.1h4.8M354.8 350.7v4.8M355.0 353.7h4.8M357.4 351.3v4.8M357.6 354.8h4.8M360.0 352.4v4.8M360.2 355.6h4.8M362.6 353.2v4.8M362.8 356.3h4.8M365.2 353.9v4.8M365.4 355.6h4.8M367.8 353.2v4.8M368.0 354.8h4.8M370.4 352.4v4.8M370.6 355.0h4.8M373.0 352.6v4.8M373.2 355.3h4.8M375.6 352.9v4.8M375.8 355.9h4.8M378.2 353.5v4.8M378.4 356.4h4.8M380.8 354.0v4.8M381.0 356.6h4.8M383.4 354.2v4.8M383.6 356.1h4.8M386.0 353.7v4.8M386.2 355.2h4.8M388.6 352.8v4.8M388.8 354.4h4.8M391.2 352.0v4.8M391.4 353.9h4.8M393.8 351.5v4.8M394.0 353.9h4.8M396.4 351.5v4.8M396.6 354.1h4.8M399.0 351.7v4.8M399.2 354.4h4.8M401.6 352.0v4.8M401.8 353.7h4.8M404.2 351.3v4.8M404.4 352.9h4.8M406.8 350.5v4.8M407.0 352.7h4.8M409.4 350.3v4.8M409.6 353.9h4.8M412.0 351.5v4.8M412.2 355.6h4.8M414.6 353.2v4.8M414.8 357.0h4.8M417.2 354.6v4.8M417.4 357.2h4.8M419.8 354.8v4.8M420.0 356.6h4.8M422.4 354.2v4.8M422.6 356.2h4.8M425.0 353.8v4.8M425.2 355.7h4.8M427.6 353.3v4.8M427.8 355.1h4.8M430.2 352.7v4.8M430.4 354.6h4.8M432.8 352.2v4.8M433.0 354.1h4.8M435.4 351.7v4.8M435.6 353.5h4.8M438.0 351.1v4.8M438.2 353.1h4.8M440.6 350.7v4.8M440.8 352.7h4.8M443.2 350.3v4.8M443.4 352.3h4.8M445.8 349.9v4.8M446.0 352.8h4.8M448.4 350.4v4.8M448.6 353.7h4.8M451.0 351.3v4.8M451.2 355.2h4.8M453.6 352.8v4.8M453.8 356.3h4.8M456.2 353.9v4.8M456.4 356.4h4.8M458.8 354.0v4.8M459.0 356.3h4.8M461.4 353.9v4.8M461.6 355.9h4.8M464.0 353.5v4.8M464.2 356.4h4.8M466.6 354.0v4.8M466.8 357.1h4.8M469.2 354.7v4.8M469.4 357.9h4.8M471.8 355.5v4.8M472.0 358.7h4.8M474.4 356.3v4.8M474.6 357.9h4.8M477.0 355.5v4.8M477.2 356.9h4.8M479.6 354.5v4.8M479.8 355.7h4.8M482.2 353.3v4.8M482.4 354.9h4.8M484.8 352.5v4.8M485.0 354.5h4.8M487.4 352.1v4.8M487.6 354.6h4.8M490.0 352.2v4.8M490.2 354.4h4.8M492.6 352.0v4.8M492.8 353.6h4.8M495.2 351.2v4.8M495.4 352.9h4.8M497.8 350.5v4.8M498.0 352.4h4.8M500.4 350.0v4.8M500.6 353.0h4.8M503.0 350.6v4.8M503.2 353.7h4.8M505.6 351.3v4.8M505.8 354.5h4.8M508.2 352.1v4.8M508.4 355.4h4.8M510.8 353.0v4.8M511.0 355.8h4.8M513.4 353.4v4.8M513.6 355.3h4.8M516.0 352.9v4.8M516.2 354.9h4.8M518.6 352.5v4.8M518.8 355.3h4.8M521.2 352.9v4.8M521.4 356.0h4.8M523.8 353.6v4.8M524.0 356.7h4.8M526.4 354.3v4.8M526.6 357.3h4.8M529.0 354.9v4.8M529.2 357.3h4.8M531.6 354.9v4.8M531.8 356.2h4.8M534.2 353.8v4.8M534.4 355.0h4.8M536.8 352.6v4.8M537.0 354.4h4.8M539.4 352.0v4.8" stroke="#0aa596" stroke-width="1.3" fill="none"/>
</g>
<rect x="80.5" y="14.2" width="460.0" height="460.3" fill="none" stroke="#262626" stroke-width="1.1"/>
<path d="M170.7 474.5v-5.0M170.7 14.2v5.0M260.9 474.5v-5.0M260.9 14.2v5.0M351.1 474.5v-5.0M351.1 14.2v5.0M441.3 474.5v-5.0M441.3 14.2v5.0M531.5 474.5v-5.0M531.5 14.2v5.0M80.5 445.8h5.0M540.5 445.8h-5.0M80.5 373.9h5.0M540.5 373.9h-5.0M80.5 301.9h5.0M540.5 301.9h-5.0M80.5 230.0h5.0M540.5 230.0h-5.0M80.5 158.1h5.0M540.5 158.1h-5.0M80.5 86.1h5.0M540.5 86.1h-5.0" stroke="#262626" stroke-width="1.1" fill="none"/>
<g font-size="17.6px">
<text x="80.5" y="500.6" text-anchor="middle">2.2</text>
<text x="170.7" y="500.6" text-anchor="middle">2.4</text>
<text x="260.9" y="500.6" text-anchor="middle">2.6</text>
<text x="351.1" y="500.6" text-anchor="middle">2.8</text>
<text x="441.3" y="500.6" text-anchor="middle">3</text>
<text x="531.5" y="500.6" text-anchor="middle">3.2</text>
<text x="72.5" y="452.5" text-anchor="end">500</text>
<text x="72.5" y="380.6" text-anchor="end">1000</text>
<text x="72.5" y="308.6" text-anchor="end">1500</text>
<text x="72.5" y="236.7" text-anchor="end">2000</text>
<text x="72.5" y="164.8" text-anchor="end">2500</text>
<text x="72.5" y="92.8" text-anchor="end">3000</text>
<text x="72.5" y="20.9" text-anchor="end">3500</text>
</g>
<text x="310.5" y="527.6" font-size="19.8px" text-anchor="middle">Time (s)</text>
<text transform="translate(22.1 244.3) rotate(-90)" font-size="19.7px" text-anchor="middle">Motor speed (rpm)</text>
<line x1="367.0" x2="421.4" y1="42.0" y2="42.0" stroke="#0000ff" stroke-width="1.8"/>
<line x1="367.0" x2="421.4" y1="62.8" y2="62.8" stroke="#8b4513" stroke-width="1.5" stroke-dasharray="7.8 6.4"/>
<path d="M392.1 60.7l4.2 4.2M392.1 64.9l4.2 -4.2" stroke="#8b4513" stroke-width="1.5" fill="none"/>
<line x1="367.0" x2="421.4" y1="84.2" y2="84.2" stroke="#ff0000" stroke-width="2.6"/>
<line x1="367.0" x2="421.4" y1="105.6" y2="105.6" stroke="#ff00ff" stroke-width="2" stroke-dasharray="7.2 2.2 2.8 2.2"/>
<line x1="367.0" x2="421.4" y1="126.8" y2="126.8" stroke="#3b50b2" stroke-width="1.7"/>
<g fill="none" stroke="#3b50b2" stroke-width="2.0"><circle cx="394.2" cy="126.8" r="2.35"/></g>
<line x1="367.0" x2="421.4" y1="148.2" y2="148.2" stroke="#0aa596" stroke-width="2.3"/>
<path d="M391.4 148.2h5.6M394.2 145.4v5.6" stroke="#0aa596" stroke-width="1.5" fill="none"/>
<g font-size="16px">
<text x="425.6" y="47.5" letter-spacing="0.2">Target speed</text>
<text x="425.6" y="69.2">MPC Only</text>
<text x="425.6" y="90.6">MPC+DO</text>
<text x="425.6" y="112.0">MPC+ISMC</text>
<text x="425.6" y="133.4">PI1(I=0.1)</text>
<text x="425.6" y="154.5">PI2(I=3)</text>
</g>
<rect x="237.7" y="161.5" width="289.5" height="147.2" fill="#fff"/>
<g clip-path="url(#ci)">
<line x1="237.7" x2="527.2" y1="182.8" y2="182.8" stroke="#ff8c00" stroke-width="1.6" stroke-dasharray="7 7.3"/>
<line x1="237.7" x2="527.2" y1="242.7" y2="242.7" stroke="#ff8c00" stroke-width="1.6" stroke-dasharray="7 7.3"/>
<polyline points="237.7,257.7 239.4,245.9 242.4,241.4 246.1,237.7 249.8,228.1 253.5,219.2 257.2,216.3 261.6,214.0 266.1,207.4 271.2,201.6 275.7,200.9 280.9,197.9 287.5,192.0 290.5,192.8 296.4,197.9 303.0,193.5 307.5,193.5 311.9,200.2 313.9,201.2 319.8,198.3 325.0,201.2 330.9,206.4 336.8,205.7 343.4,211.6 347.9,213.1 352.3,210.8 356.8,213.8 361.2,217.5 367.1,216.8 371.5,221.2 375.2,223.4 378.9,221.9 383.9,215.3 388.3,218.2 392.7,217.5 397.2,215.3 401.6,216.0 406.8,217.5 412.0,213.8 416.4,216.8 420.8,215.3 426.8,214.5 432.7,210.8 437.1,208.6 441.5,208.6 446.0,210.8 450.4,208.6 454.4,208.6 457.4,212.3 463.0,213.0 469.2,210.1 473.7,213.1 480.0,217.0 488.5,221.2 494.4,215.3 498.8,210.1 503.3,213.8 509.2,213.8 515.1,207.9 519.5,212.3 524.0,207.9 527.3,213.8" fill="none" stroke="#ff0000" stroke-width="2.8" stroke-linejoin="round" />
<polyline points="237.7,213.0 241.7,213.0 249.0,220.8 379.0,220.9 383.9,212.6 457.4,212.6 465.5,199.8 470.7,199.8 478.1,212.3 482.5,220.5 487.0,225.6 491.4,225.6 495.9,212.6 524.0,212.6 527.3,203.0" fill="none" stroke="#0000ff" stroke-width="1.9" stroke-linejoin="round" />
<polyline points="237.8,181.1 239.7,199.6 241.2,214.4 242.7,226.2 244.9,234.0 245.6,238.0 247.2,235.0 248.6,229.2 250.8,221.8 253.0,214.4 255.2,207.0 257.4,192.2 259.7,182.6 261.9,187.8 263.4,199.6 264.8,211.4 266.3,223.3 267.8,230.7 270.0,229.2 272.2,221.8 273.7,212.9 275.2,208.5 276.7,199.6 278.9,192.2 280.4,195.1 281.9,204.0 283.3,212.9 285.6,217.3 287.8,214.4 290.0,211.4 292.2,207.5 294.2,203.0 297.1,216.3 300.1,229.6 301.6,235.5 303.0,229.6 304.5,213.3 306.5,203.0 308.0,197.5 309.4,194.6 310.9,200.5 313.9,219.7 316.1,231.5 319.0,237.5 321.3,230.0 322.7,209.4 325.0,203.4 327.2,207.9 329.4,215.3 332.4,224.1 335.3,228.6 336.8,219.7 338.3,213.8 340.5,215.3 343.4,219.7 346.4,216.8 348.6,218.2 350.8,222.7 353.8,224.1 356.0,228.6 357.5,221.2 359.7,210.8 361.9,207.9 364.1,213.8 367.1,221.2 369.3,230.0 370.8,224.1 373.0,219.7 376.0,212.3 378.2,209.4 380.4,218.2 382.6,224.1 384.0,227.0 386.0,208.0 388.3,202.0 390.5,209.4 392.7,218.0 395.0,222.7 397.0,219.7 399.4,206.4 401.6,201.2 403.0,209.4 406.0,219.7 409.0,224.0 411.2,215.3 414.2,212.3 417.0,215.3 419.4,219.7 422.3,221.2 424.5,215.3 427.5,209.4 430.5,212.3 433.4,216.8 435.6,219.7 438.6,215.3 441.5,212.3 444.5,216.8 447.5,219.7 450.4,215.3 453.4,218.2 456.0,213.0 459.0,217.0 462.0,215.0 465.0,220.0 468.0,214.0 470.0,210.0 473.0,215.0 476.0,222.0 479.0,224.0 482.0,216.0 485.0,211.0 488.0,216.0 491.0,219.0 494.0,215.0 497.0,211.0 500.0,207.9 503.0,213.0 506.0,220.0 509.0,223.0 512.0,217.0 514.0,206.0 517.0,212.0 519.0,217.0 521.0,220.0 524.0,210.0 526.0,204.0 527.3,203.0" fill="none" stroke="#ff00ff" stroke-width="1.8" stroke-dasharray="7.2 2.2 2.8 2.2" stroke-linejoin="round" />
<polyline points="258.5,140.0 261.6,161.3 263.8,169.1 266.8,181.7 270.5,186.8 273.8,189.8 277.2,198.5 279.4,209.3 282.3,217.0 286.0,220.1 289.0,228.9 292.0,240.0 294.9,245.9 297.9,250.3 300.8,256.2 302.2,260.1 304.4,270.5 308.1,270.5 311.8,274.9 314.0,282.3 317.7,289.0 320.7,286.0 323.7,288.2 327.4,286.0 330.3,274.2 334.0,269.0 337.0,265.3 339.9,258.7 342.8,242.2 346.4,231.5 349.4,224.1 352.3,213.8 355.3,204.2 358.2,199.8 361.9,196.1 365.6,192.4 368.6,183.5 373.0,181.3 377.7,186.4 381.5,182.0 385.4,177.6 389.0,179.8 391.3,185.7 394.2,190.9 397.9,186.4 400.9,187.9 403.8,193.1 406.8,201.2 410.5,201.2 413.5,196.8 416.4,200.5 419.4,207.9 422.3,212.3 426.0,213.1 430.5,210.8 434.2,216.0 438.6,219.7 443.0,220.5 447.5,224.1 451.9,222.7 454.4,222.7 458.1,227.1 461.1,228.6 464.8,222.7 469.2,219.7 473.7,219.7 477.4,207.9 481.8,199.8 485.5,203.5 489.2,207.1 492.2,205.7 495.1,212.3 498.1,218.2 501.8,221.2 506.2,215.3 510.6,219.7 514.3,224.1 518.0,219.7 521.7,224.1 525.4,225.6 527.3,225.0" fill="none" stroke="#8b4513" stroke-width="1.5" stroke-dasharray="7.8 6.4" stroke-linejoin="round" />
<path d="M256.9 141.3l4.2 4.2M256.9 145.5l4.2 -4.2M259.9 160.8l4.2 4.2M259.9 165.0l4.2 -4.2M263.0 172.5l4.2 4.2M263.0 176.7l4.2 -4.2M266.1 181.5l4.2 4.2M266.1 185.7l4.2 -4.2M269.1 185.3l4.2 4.2M269.1 189.5l4.2 -4.2M272.2 188.9l4.2 4.2M272.2 193.1l4.2 -4.2M275.2 196.9l4.2 4.2M275.2 201.1l4.2 -4.2M278.3 209.7l4.2 4.2M278.3 213.9l4.2 -4.2M281.3 215.8l4.2 4.2M281.3 220.0l4.2 -4.2M284.4 219.3l4.2 4.2M284.4 223.5l4.2 -4.2M287.4 228.7l4.2 4.2M287.4 232.9l4.2 -4.2M290.5 239.0l4.2 4.2M290.5 243.2l4.2 -4.2M293.5 244.8l4.2 4.2M293.5 249.0l4.2 -4.2M296.6 249.7l4.2 4.2M296.6 253.9l4.2 -4.2M299.6 256.6l4.2 4.2M299.6 260.8l4.2 -4.2M302.7 268.4l4.2 4.2M302.7 272.6l4.2 -4.2M305.7 268.4l4.2 4.2M305.7 272.6l4.2 -4.2M308.8 271.7l4.2 4.2M308.8 275.9l4.2 -4.2M311.8 279.9l4.2 4.2M311.8 284.1l4.2 -4.2M314.9 285.5l4.2 4.2M314.9 289.7l4.2 -4.2M317.9 284.6l4.2 4.2M317.9 288.8l4.2 -4.2M321.0 285.6l4.2 4.2M321.0 289.8l4.2 -4.2M324.0 284.7l4.2 4.2M324.0 288.9l4.2 -4.2M327.1 276.8l4.2 4.2M327.1 281.0l4.2 -4.2M330.1 269.4l4.2 4.2M330.1 273.6l4.2 -4.2M333.2 265.4l4.2 4.2M333.2 269.6l4.2 -4.2M336.2 260.2l4.2 4.2M336.2 264.4l4.2 -4.2M339.3 248.3l4.2 4.2M339.3 252.5l4.2 -4.2M342.3 235.3l4.2 4.2M342.3 239.5l4.2 -4.2M345.4 226.8l4.2 4.2M345.4 231.0l4.2 -4.2M348.4 218.1l4.2 4.2M348.4 222.3l4.2 -4.2M351.5 207.7l4.2 4.2M351.5 211.9l4.2 -4.2M354.5 200.1l4.2 4.2M354.5 204.3l4.2 -4.2M357.6 196.2l4.2 4.2M357.6 200.4l4.2 -4.2M360.6 193.2l4.2 4.2M360.6 197.4l4.2 -4.2M363.7 189.9l4.2 4.2M363.7 194.1l4.2 -4.2M366.7 181.3l4.2 4.2M366.7 185.5l4.2 -4.2M369.8 179.8l4.2 4.2M369.8 184.0l4.2 -4.2M372.8 181.3l4.2 4.2M372.8 185.5l4.2 -4.2M375.9 184.0l4.2 4.2M375.9 188.2l4.2 -4.2M378.9 180.5l4.2 4.2M378.9 184.7l4.2 -4.2M382.0 177.0l4.2 4.2M382.0 181.2l4.2 -4.2M385.0 176.5l4.2 4.2M385.0 180.7l4.2 -4.2M388.1 180.7l4.2 4.2M388.1 184.9l4.2 -4.2M391.1 187.0l4.2 4.2M391.1 191.2l4.2 -4.2M394.2 186.3l4.2 4.2M394.2 190.5l4.2 -4.2M397.2 185.0l4.2 4.2M397.2 189.2l4.2 -4.2M400.3 188.4l4.2 4.2M400.3 192.6l4.2 -4.2M403.3 195.3l4.2 4.2M403.3 199.5l4.2 -4.2M406.4 199.1l4.2 4.2M406.4 203.3l4.2 -4.2M409.4 197.6l4.2 4.2M409.4 201.8l4.2 -4.2M412.5 196.0l4.2 4.2M412.5 200.2l4.2 -4.2M415.5 201.4l4.2 4.2M415.5 205.6l4.2 -4.2M418.6 207.7l4.2 4.2M418.6 211.9l4.2 -4.2M421.6 210.5l4.2 4.2M421.6 214.7l4.2 -4.2M424.7 210.6l4.2 4.2M424.7 214.8l4.2 -4.2M427.7 209.1l4.2 4.2M427.7 213.3l4.2 -4.2M430.8 212.0l4.2 4.2M430.8 216.2l4.2 -4.2M433.8 215.3l4.2 4.2M433.8 219.5l4.2 -4.2M436.9 217.7l4.2 4.2M436.9 221.9l4.2 -4.2M439.9 218.2l4.2 4.2M439.9 222.4l4.2 -4.2M443.0 220.0l4.2 4.2M443.0 224.2l4.2 -4.2M446.0 221.8l4.2 4.2M446.0 226.0l4.2 -4.2M449.1 220.8l4.2 4.2M449.1 225.0l4.2 -4.2M452.1 220.6l4.2 4.2M452.1 224.8l4.2 -4.2M455.2 224.0l4.2 4.2M455.2 228.2l4.2 -4.2M458.2 226.1l4.2 4.2M458.2 230.3l4.2 -4.2M461.3 222.9l4.2 4.2M461.3 227.1l4.2 -4.2M464.3 219.5l4.2 4.2M464.3 223.7l4.2 -4.2M467.4 217.6l4.2 4.2M467.4 221.8l4.2 -4.2M470.4 217.6l4.2 4.2M470.4 221.8l4.2 -4.2M473.5 211.7l4.2 4.2M473.5 215.9l4.2 -4.2M476.5 203.6l4.2 4.2M476.5 207.8l4.2 -4.2M479.6 198.0l4.2 4.2M479.6 202.2l4.2 -4.2M482.6 200.6l4.2 4.2M482.6 204.8l4.2 -4.2M485.7 203.6l4.2 4.2M485.7 207.8l4.2 -4.2M488.7 204.3l4.2 4.2M488.7 208.5l4.2 -4.2M491.8 207.4l4.2 4.2M491.8 211.6l4.2 -4.2M494.8 213.7l4.2 4.2M494.8 217.9l4.2 -4.2M497.9 217.6l4.2 4.2M497.9 221.8l4.2 -4.2M500.9 217.5l4.2 4.2M500.9 221.7l4.2 -4.2M504.0 213.4l4.2 4.2M504.0 217.6l4.2 -4.2M507.0 216.1l4.2 4.2M507.0 220.3l4.2 -4.2M510.1 219.4l4.2 4.2M510.1 223.6l4.2 -4.2M513.1 220.9l4.2 4.2M513.1 225.1l4.2 -4.2M516.2 217.9l4.2 4.2M516.2 222.1l4.2 -4.2M519.2 221.5l4.2 4.2M519.2 225.7l4.2 -4.2M522.3 223.1l4.2 4.2M522.3 227.3l4.2 -4.2" stroke="#8b4513" stroke-width="1.5" fill="none"/>
<polyline points="238.3,247.3 243.1,256.2 248.3,257.7 253.5,258.1 258.7,265.8 263.8,268.0 269.0,261.4 273.7,259.9 278.9,265.1 283.8,259.9 289.0,255.5 294.2,257.7 299.3,259.9 304.4,254.2 309.6,252.0 314.8,256.4 319.7,255.0 324.8,249.0 330.0,249.8 335.0,255.7 339.9,254.2 345.1,250.5 350.3,256.4 355.2,260.1 360.2,255.0 365.1,252.7 370.2,258.7 375.3,257.9 380.4,251.5 385.6,255.0 390.5,262.4 395.7,260.1 400.9,255.0 406.1,259.4 410.9,259.4 416.1,253.5 421.3,253.5 426.0,260.1 431.2,258.7 436.4,252.0 441.5,256.4 446.4,262.4 451.7,259.4 456.8,256.6 462.0,260.3 467.0,258.5 472.2,252.9 477.2,253.3 482.3,259.4 487.0,257.6 492.1,252.6 497.5,256.6 502.7,260.3 507.7,254.4 512.5,252.0 517.8,256.6 523.0,252.6 526.3,246.5" fill="none" stroke="#3b50b2" stroke-width="1.9" stroke-linejoin="round" />
<g fill="none" stroke="#3b50b2" stroke-width="2.0"><circle cx="238.3" cy="247.3" r="2.35"/><circle cx="243.1" cy="256.2" r="2.35"/><circle cx="248.3" cy="257.7" r="2.35"/><circle cx="253.5" cy="258.1" r="2.35"/><circle cx="258.7" cy="265.8" r="2.35"/><circle cx="263.8" cy="268.0" r="2.35"/><circle cx="269.0" cy="261.4" r="2.35"/><circle cx="273.7" cy="259.9" r="2.35"/><circle cx="278.9" cy="265.1" r="2.35"/><circle cx="283.8" cy="259.9" r="2.35"/><circle cx="289.0" cy="255.5" r="2.35"/><circle cx="294.2" cy="257.7" r="2.35"/><circle cx="299.3" cy="259.9" r="2.35"/><circle cx="304.4" cy="254.2" r="2.35"/><circle cx="309.6" cy="252.0" r="2.35"/><circle cx="314.8" cy="256.4" r="2.35"/><circle cx="319.7" cy="255.0" r="2.35"/><circle cx="324.8" cy="249.0" r="2.35"/><circle cx="330.0" cy="249.8" r="2.35"/><circle cx="335.0" cy="255.7" r="2.35"/><circle cx="339.9" cy="254.2" r="2.35"/><circle cx="345.1" cy="250.5" r="2.35"/><circle cx="350.3" cy="256.4" r="2.35"/><circle cx="355.2" cy="260.1" r="2.35"/><circle cx="360.2" cy="255.0" r="2.35"/><circle cx="365.1" cy="252.7" r="2.35"/><circle cx="370.2" cy="258.7" r="2.35"/><circle cx="375.3" cy="257.9" r="2.35"/><circle cx="380.4" cy="251.5" r="2.35"/><circle cx="385.6" cy="255.0" r="2.35"/><circle cx="390.5" cy="262.4" r="2.35"/><circle cx="395.7" cy="260.1" r="2.35"/><circle cx="400.9" cy="255.0" r="2.35"/><circle cx="406.1" cy="259.4" r="2.35"/><circle cx="410.9" cy="259.4" r="2.35"/><circle cx="416.1" cy="253.5" r="2.35"/><circle cx="421.3" cy="253.5" r="2.35"/><circle cx="426.0" cy="260.1" r="2.35"/><circle cx="431.2" cy="258.7" r="2.35"/><circle cx="436.4" cy="252.0" r="2.35"/><circle cx="441.5" cy="256.4" r="2.35"/><circle cx="446.4" cy="262.4" r="2.35"/><circle cx="451.7" cy="259.4" r="2.35"/><circle cx="456.8" cy="256.6" r="2.35"/><circle cx="462.0" cy="260.3" r="2.35"/><circle cx="467.0" cy="258.5" r="2.35"/><circle cx="472.2" cy="252.9" r="2.35"/><circle cx="477.2" cy="253.3" r="2.35"/><circle cx="482.3" cy="259.4" r="2.35"/><circle cx="487.0" cy="257.6" r="2.35"/><circle cx="492.1" cy="252.6" r="2.35"/><circle cx="497.5" cy="256.6" r="2.35"/><circle cx="502.7" cy="260.3" r="2.35"/><circle cx="507.7" cy="254.4" r="2.35"/><circle cx="512.5" cy="252.0" r="2.35"/><circle cx="517.8" cy="256.6" r="2.35"/><circle cx="523.0" cy="252.6" r="2.35"/><circle cx="526.3" cy="246.5" r="2.35"/></g>
<polyline points="237.7,205.5 242.4,214.8 247.6,224.4 253.5,218.5 258.7,222.2 263.8,231.1 269.0,236.2 274.2,229.6 279.4,231.1 284.5,238.5 289.7,242.9 293.4,231.8 298.6,227.4 304.5,225.3 309.2,217.0 312.6,209.5 314.8,205.0 319.8,207.9 325.0,219.0 330.1,225.6 335.3,216.8 340.5,218.2 345.7,224.1 349.4,227.8 353.8,223.4 358.2,215.3 362.7,210.8 367.1,212.3 371.5,214.5 376.0,206.4 380.3,204.2 383.1,213.8 386.8,225.6 389.8,232.3 394.2,227.1 398.7,223.4 403.1,218.2 408.3,213.1 412.7,208.6 417.1,204.9 421.6,202.0 426.0,209.4 429.0,218.2 431.9,224.9 436.4,226.4 440.8,222.7 445.2,227.1 448.9,233.0 452.8,238.9 456.7,233.0 460.4,224.1 464.0,217.5 467.7,214.5 472.2,216.0 476.6,209.4 481.8,202.7 485.5,207.1 489.2,212.3 493.6,219.7 497.3,222.7 501.8,216.8 506.2,219.7 509.9,225.6 513.6,230.8 517.3,230.8 521.0,222.7 524.0,215.3 527.3,213.8" fill="none" stroke="#0aa596" stroke-width="2.3" stroke-linejoin="round" />
<path d="M236.1 207.1h4.8M238.5 204.7v4.8M238.7 212.1h4.8M241.1 209.7v4.8M241.2 217.0h4.8M243.6 214.6v4.8M243.8 221.7h4.8M246.2 219.3v4.8M246.3 223.3h4.8M248.7 220.9v4.8M248.9 220.7h4.8M251.3 218.3v4.8M251.4 218.7h4.8M253.8 216.3v4.8M254.0 220.5h4.8M256.4 218.1v4.8M256.5 222.5h4.8M258.9 220.1v4.8M259.1 227.0h4.8M261.5 224.6v4.8M261.6 231.3h4.8M264.0 228.9v4.8M264.2 233.8h4.8M266.6 231.4v4.8M266.7 236.1h4.8M269.1 233.7v4.8M269.3 232.8h4.8M271.7 230.4v4.8M271.8 229.6h4.8M274.2 227.2v4.8M274.4 230.3h4.8M276.8 227.9v4.8M276.9 231.1h4.8M279.3 228.7v4.8M279.5 234.7h4.8M281.9 232.3v4.8M282.0 238.4h4.8M284.4 236.0v4.8M284.6 240.6h4.8M287.0 238.2v4.8M287.1 242.7h4.8M289.5 240.3v4.8M289.7 235.8h4.8M292.1 233.4v4.8M292.2 230.8h4.8M294.6 228.4v4.8M294.8 228.6h4.8M297.2 226.2v4.8M297.3 227.0h4.8M299.7 224.6v4.8M299.9 226.1h4.8M302.3 223.7v4.8M302.4 224.8h4.8M304.8 222.4v4.8M305.0 220.3h4.8M307.4 217.9v4.8M307.5 215.5h4.8M309.9 213.1v4.8M310.1 209.8h4.8M312.5 207.4v4.8M312.6 205.1h4.8M315.0 202.7v4.8M315.2 206.6h4.8M317.6 204.2v4.8M317.7 208.5h4.8M320.1 206.1v4.8M320.3 214.0h4.8M322.7 211.6v4.8M322.8 219.3h4.8M325.2 216.9v4.8M325.4 222.6h4.8M327.8 220.2v4.8M327.9 225.3h4.8M330.3 222.9v4.8M330.5 220.9h4.8M332.9 218.5v4.8M333.0 216.8h4.8M335.4 214.4v4.8M335.6 217.5h4.8M338.0 215.1v4.8M338.1 218.2h4.8M340.5 215.8v4.8M340.7 221.1h4.8M343.1 218.7v4.8M343.2 224.0h4.8M345.6 221.6v4.8M345.8 226.6h4.8M348.2 224.2v4.8M348.3 226.5h4.8M350.7 224.1v4.8M350.9 223.9h4.8M353.3 221.5v4.8M353.4 219.7h4.8M355.8 217.3v4.8M356.0 215.1h4.8M358.4 212.7v4.8M358.5 212.6h4.8M360.9 210.2v4.8M361.1 211.1h4.8M363.5 208.7v4.8M363.6 211.9h4.8M366.0 209.5v4.8M366.2 213.0h4.8M368.6 210.6v4.8M368.7 214.3h4.8M371.1 211.9v4.8M371.3 210.6h4.8M373.7 208.2v4.8M373.8 206.3h4.8M376.2 203.9v4.8M376.4 205.0h4.8M378.8 202.6v4.8M378.9 207.6h4.8M381.3 205.2v4.8M381.5 216.2h4.8M383.9 213.8v4.8M384.0 224.3h4.8M386.4 221.9v4.8M386.6 230.4h4.8M389.0 228.0v4.8M389.1 230.3h4.8M391.5 227.9v4.8M391.7 227.3h4.8M394.1 224.9v4.8M394.2 225.1h4.8M396.6 222.7v4.8M396.8 222.9h4.8M399.2 220.5v4.8M399.3 219.9h4.8M401.7 217.5v4.8M401.9 217.1h4.8M404.3 214.7v4.8M404.4 214.6h4.8M406.8 212.2v4.8M407.0 212.0h4.8M409.4 209.6v4.8M409.5 209.4h4.8M411.9 207.0v4.8M412.1 207.1h4.8M414.5 204.7v4.8M414.6 205.0h4.8M417.0 202.6v4.8M417.2 203.3h4.8M419.6 200.9v4.8M419.7 202.8h4.8M422.1 200.4v4.8M422.3 207.1h4.8M424.7 204.7v4.8M424.8 212.9h4.8M427.2 210.5v4.8M427.4 219.9h4.8M429.8 217.5v4.8M429.9 225.0h4.8M432.3 222.6v4.8M432.5 225.9h4.8M434.9 223.5v4.8M435.0 225.6h4.8M437.4 223.2v4.8M437.6 223.4h4.8M440.0 221.0v4.8M440.1 224.4h4.8M442.5 222.0v4.8M442.7 227.0h4.8M445.1 224.6v4.8M445.2 230.9h4.8M447.6 228.5v4.8M447.8 234.9h4.8M450.2 232.5v4.8M450.3 238.7h4.8M452.7 236.3v4.8M452.9 235.2h4.8M455.3 232.8v4.8M455.4 230.4h4.8M457.8 228.0v4.8M458.0 224.2h4.8M460.4 221.8v4.8M460.5 219.5h4.8M462.9 217.1v4.8M463.1 216.3h4.8M465.5 213.9v4.8M465.6 214.6h4.8M468.0 212.2v4.8M468.2 215.5h4.8M470.6 213.1v4.8M470.7 214.6h4.8M473.1 212.2v4.8M473.3 210.8h4.8M475.7 208.4v4.8M475.8 207.3h4.8M478.2 204.9v4.8M478.4 204.1h4.8M480.8 201.7v4.8M480.9 204.5h4.8M483.3 202.1v4.8M483.5 207.6h4.8M485.9 205.2v4.8M486.0 211.2h4.8M488.4 208.8v4.8M488.6 215.2h4.8M491.0 212.8v4.8M491.1 219.5h4.8M493.5 217.1v4.8M493.7 221.7h4.8M496.1 219.3v4.8M496.2 221.0h4.8M498.6 218.6v4.8M498.8 217.7h4.8M501.2 215.3v4.8M501.3 218.1h4.8M503.7 215.7v4.8M503.9 219.8h4.8M506.3 217.4v4.8M506.4 223.8h4.8M508.8 221.4v4.8M509.0 227.6h4.8M511.4 225.2v4.8M511.5 230.8h4.8M513.9 228.4v4.8M514.1 230.8h4.8M516.5 228.4v4.8M516.6 227.1h4.8M519.0 224.7v4.8M519.2 221.3h4.8M521.6 218.9v4.8M521.7 215.3h4.8M524.1 212.9v4.8M524.3 214.1h4.8M526.7 211.7v4.8" stroke="#0aa596" stroke-width="1.5" fill="none"/>
</g>
<rect x="237.7" y="161.5" width="289.5" height="147.2" fill="none" stroke="#262626" stroke-width="1.1"/>
<path d="M263.1 308.7v-2.9M263.1 161.5v2.9M313.9 308.7v-2.9M313.9 161.5v2.9M364.7 308.7v-2.9M364.7 161.5v2.9M415.5 308.7v-2.9M415.5 161.5v2.9M466.3 308.7v-2.9M466.3 161.5v2.9M517.1 308.7v-2.9M517.1 161.5v2.9M237.7 284.2h2.9M527.2 284.2h-2.9M237.7 243.3h2.9M527.2 243.3h-2.9M237.7 202.4h2.9M527.2 202.4h-2.9" stroke="#262626" stroke-width="1.1" fill="none"/>
<g font-size="14.5px">
<text x="262.0" y="328.8" text-anchor="middle">2.7</text>
<text x="312.8" y="328.8" text-anchor="middle">2.8</text>
<text x="363.6" y="328.8" text-anchor="middle">2.9</text>
<text x="414.4" y="328.8" text-anchor="middle">3</text>
<text x="465.2" y="328.8" text-anchor="middle">3.1</text>
<text x="516.0" y="328.8" text-anchor="middle">3.2</text>
<text x="233" y="289.5" text-anchor="end">1050</text>
<text x="233" y="248.6" text-anchor="end">1100</text>
<text x="233" y="207.7" text-anchor="end">1150</text>
<text x="233" y="166.8" text-anchor="end">1200</text>
</g>
</svg>
</body></html>
